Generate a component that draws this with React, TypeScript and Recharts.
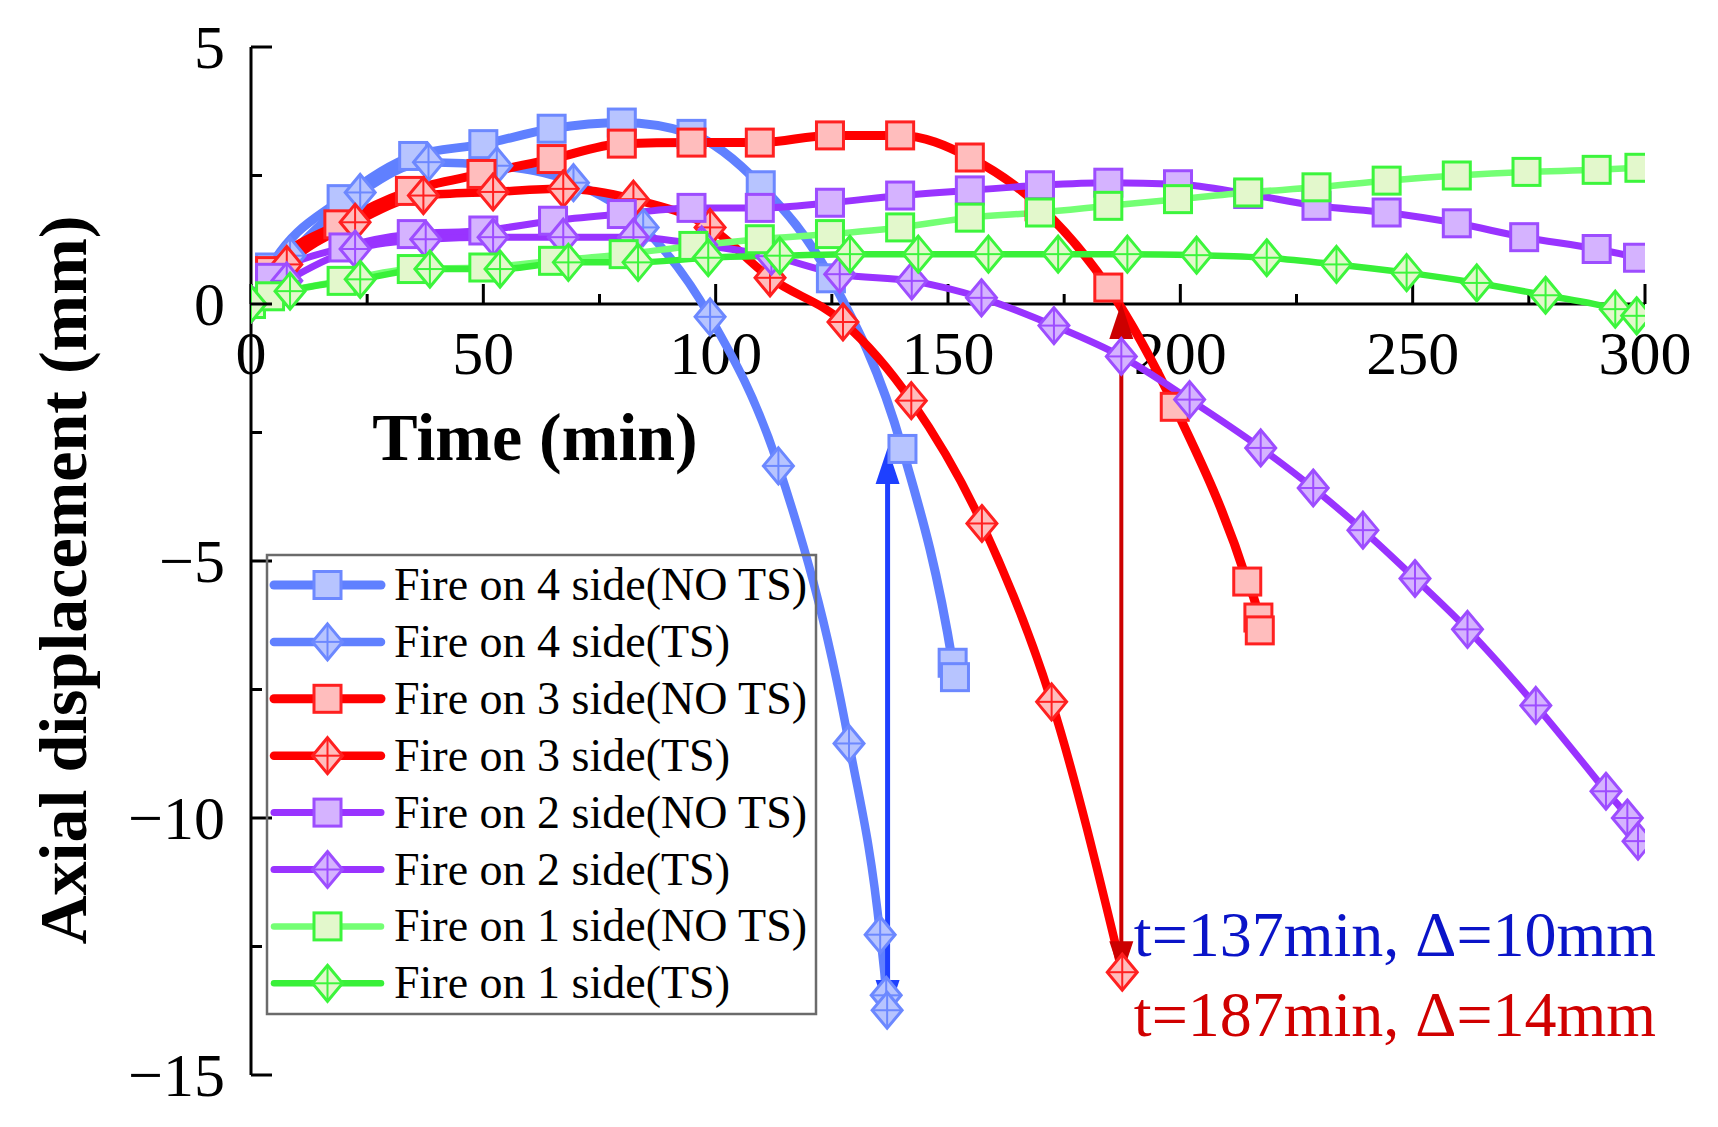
import React from 'react';
import { LineChart, Line, XAxis, YAxis, ReferenceLine, ReferenceDot, Legend, Label } from 'recharts';

const FONT = "'Liberation Serif', 'Times New Roman', serif";

// ---- data (time in min, axial displacement in mm) ----
const side4NoTsTime = [0, 4.1, 19.5, 34.9, 50, 64.7, 79.8, 94.8, 109.7, 124.8, 140.2, 151, 151.5];
const side4NoTsDisp = [0, 0.71, 2.04, 2.88, 3.11, 3.41, 3.53, 3.31, 2.31, 0.5, -2.82, -6.98, -7.26];

const side4TsTime = [0, 8.4, 23.5, 38.2, 52.9, 69.4, 84.4, 98.8, 113.5, 128.7, 135.4, 136.7, 136.9];
const side4TsDisp = [0, 0.94, 2.17, 2.76, 2.69, 2.36, 1.49, -0.25, -3.15, -8.55, -12.27, -13.45, -13.74];

const side3NoTsTime = [0, 4.1, 18.8, 34.2, 49.6, 64.7, 79.8, 94.8, 109.5, 124.6, 139.7, 154.7, 169.7, 184.5, 198.8, 214.4, 216.8, 217.1];
const side3NoTsDisp = [0, 0.64, 1.55, 2.2, 2.53, 2.82, 3.12, 3.14, 3.14, 3.28, 3.28, 2.85, 1.9, 0.32, -2.0, -5.4, -6.1, -6.35];

const side3TsTime = [0, 7.7, 22.4, 37.1, 52.1, 67.2, 82.3, 98.8, 111.7, 127.4, 142.1, 157.3, 172.3, 187.5];
const side3TsDisp = [0, 0.77, 1.59, 2.11, 2.18, 2.24, 2.04, 1.49, 0.51, -0.35, -1.88, -4.27, -7.74, -13.0];

const side2NoTsTime = [0, 4.1, 19.9, 34.6, 50, 65, 79.8, 94.8, 109.5, 124.6, 139.7, 154.7, 169.8, 184.5, 199.5, 214.6, 229.3, 244.4, 259.5, 274, 289.6, 298.5];
const side2NoTsDisp = [0, 0.51, 1.1, 1.36, 1.43, 1.62, 1.75, 1.87, 1.87, 1.97, 2.11, 2.21, 2.31, 2.36, 2.33, 2.14, 1.91, 1.78, 1.57, 1.3, 1.07, 0.9];

const side2TsTime = [0, 7.7, 22.4, 37.6, 52.1, 67.2, 82.3, 97, 112, 126.7, 142.2, 157.2, 172.8, 187.3, 202, 217.3, 228.6, 239.3, 250.5, 261.8, 276.5, 291.6, 296.2, 298.5];
const side2TsDisp = [0, 0.45, 1.07, 1.26, 1.3, 1.3, 1.3, 1.15, 0.93, 0.58, 0.45, 0.12, -0.42, -1.02, -1.86, -2.8, -3.58, -4.4, -5.34, -6.33, -7.81, -9.48, -10.0, -10.45];

const side1NoTsTime = [0, 4.1, 19.5, 34.6, 50, 65, 80.2, 95.2, 109.5, 124.6, 139.7, 154.7, 169.8, 184.5, 199.5, 214.6, 229.3, 244.4, 259.5, 274.5, 289.6, 298.8];
const side1NoTsDisp = [0, 0.15, 0.45, 0.68, 0.71, 0.84, 0.97, 1.13, 1.26, 1.36, 1.49, 1.68, 1.78, 1.91, 2.04, 2.17, 2.27, 2.4, 2.5, 2.57, 2.61, 2.65];

const side1TsTime = [0, 8.4, 23.5, 38.5, 53.6, 68.3, 83.3, 98.4, 113.8, 128.9, 143.6, 158.7, 173.7, 188.6, 203.5, 218.6, 233.6, 248.7, 263.8, 278.6, 293.6, 298.2];
const side1TsDisp = [0, 0.25, 0.48, 0.68, 0.68, 0.81, 0.81, 0.9, 0.94, 0.97, 0.97, 0.97, 0.97, 0.97, 0.95, 0.9, 0.77, 0.61, 0.41, 0.17, -0.1, -0.23];

const xTicks = [0, 25, 50, 75, 100, 125, 150, 175, 200, 225, 250, 275, 300];
const yTicks = [-15, -12.5, -10, -7.5, -5, -2.5, 0, 2.5, 5];

// annotation values
const arrow4 = { t: 137, from: -2.8, to: -13.85 };
const arrow3 = { t: 187.3, from: 0.02, to: -13.1 };
const note4 = { t: 190, v: -12.68, text: 't=137min, \u0394=10mm' };
const note3 = { t: 190, v: -14.25, text: 't=187min, \u0394=14mm' };

const zip = (ts: number[], vs: number[]) => ts.map((t, i) => ({ t, v: vs[i] }));

type Shape = 'square' | 'diamond';
interface SeriesCfg {
  name: string;
  data: { t: number; v: number }[];
  line: string;
  width: number;
  shape: Shape;
  fill: string;
  stroke: string;
}

const series: SeriesCfg[] = [
  { name: 'Fire on 4 side(NO TS)', data: zip(side4NoTsTime, side4NoTsDisp), line: '#6080ff', width: 9, shape: 'square', fill: '#b7c4ff', stroke: '#6c88ff' },
  { name: 'Fire on 4 side(TS)', data: zip(side4TsTime, side4TsDisp), line: '#6080ff', width: 8.5, shape: 'diamond', fill: '#b7c4ff', stroke: '#6c88ff' },
  { name: 'Fire on 3 side(NO TS)', data: zip(side3NoTsTime, side3NoTsDisp), line: '#ff0000', width: 9, shape: 'square', fill: '#ffbdbd', stroke: '#ff2020' },
  { name: 'Fire on 3 side(TS)', data: zip(side3TsTime, side3TsDisp), line: '#ff0000', width: 8.5, shape: 'diamond', fill: '#ffbdbd', stroke: '#ff2020' },
  { name: 'Fire on 2 side(NO TS)', data: zip(side2NoTsTime, side2NoTsDisp), line: '#9933ff', width: 7, shape: 'square', fill: '#d5b3ff', stroke: '#9d4dff' },
  { name: 'Fire on 2 side(TS)', data: zip(side2TsTime, side2TsDisp), line: '#9933ff', width: 7, shape: 'diamond', fill: '#d5b3ff', stroke: '#9d4dff' },
  { name: 'Fire on 1 side(NO TS)', data: zip(side1NoTsTime, side1NoTsDisp), line: '#74ff74', width: 6.5, shape: 'square', fill: '#e3f8cc', stroke: '#3cf53c' },
  { name: 'Fire on 1 side(TS)', data: zip(side1TsTime, side1TsDisp), line: '#38f038', width: 6.5, shape: 'diamond', fill: '#e3f8cc', stroke: '#3cf53c' },
];

const Marker = ({ shape, cx, cy, fill, stroke }: { shape: Shape; cx: number; cy: number; fill: string; stroke: string }) => {
  if (shape === 'square') {
    return <rect x={cx - 13.5} y={cy - 13.5} width={27} height={27} fill={fill} stroke={stroke} strokeWidth={3} />;
  }
  const hw = 15;
  const hh = 18;
  return (
    <g>
      <path d={`M${cx},${cy - hh} L${cx + hw},${cy} L${cx},${cy + hh} L${cx - hw},${cy} Z`} fill={fill} stroke={stroke} strokeWidth={3} />
      <line x1={cx} x2={cx} y1={cy - hh} y2={cy + hh} stroke={stroke} strokeWidth={2} />
      <line x1={cx - hw} x2={cx + hw} y1={cy} y2={cy} stroke={stroke} strokeWidth={2} />
    </g>
  );
};

const makeDot = (s: SeriesCfg) => (p: any) => {
  if (p.cx == null || p.cy == null) return <g key={`${s.name}-${p.index}`} />;
  return (
    <g key={`${s.name}-${p.index}`}>
      <Marker shape={s.shape} cx={p.cx} cy={p.cy} fill={s.fill} stroke={s.stroke} />
    </g>
  );
};

const fmt = (v: number) => (v < 0 ? `\u2212${Math.abs(v)}` : `${v}`);

const YTick = (p: any) => {
  const v = p.payload.value;
  const major = v % 5 === 0;
  return (
    <g>
      <line x1={p.x} x2={p.x + (major ? 21 : 11)} y1={p.y} y2={p.y} stroke="#000" strokeWidth={3} />
      {major && (
        <text x={p.x - 26} y={p.y + 21} textAnchor="end" fontFamily={FONT} fontSize={62} fill="#000">
          {fmt(v)}
        </text>
      )}
    </g>
  );
};

const XTick = (p: any) => {
  const v = p.payload.value;
  const major = v % 50 === 0;
  return (
    <g>
      <line x1={p.x} x2={p.x} y1={p.y} y2={p.y - (major ? 20 : 10)} stroke="#000" strokeWidth={3} />
      {major && (
        <text x={p.x} y={p.y + 70} textAnchor="middle" fontFamily={FONT} fontSize={62} fill="#000">
          {v}
        </text>
      )}
    </g>
  );
};

const YLabel = (p: any) => {
  const vb = p.viewBox || { x: 0, y: 47, width: 251, height: 1028 };
  const cx = vb.x + 86;
  const cy = vb.y + vb.height / 2 + 19;
  return (
    <text x={cx} y={cy} transform={`rotate(-90 ${cx} ${cy})`} textAnchor="middle" fontFamily={FONT} fontWeight="bold" fontSize={68} fill="#000">
      Axial displacement (mm)
    </text>
  );
};

const TimeLabel = (p: any) => {
  const vb = p.viewBox || { x: 251, y: 304, width: 1394, height: 196 };
  return (
    <text x={vb.x + 284} y={vb.y + 156} textAnchor="middle" fontFamily={FONT} fontWeight="bold" fontSize={68} fill="#000">
      Time (min)
    </text>
  );
};

const makeArrow = (color: string, w: number) => (p: any) => {
  const x = p.x1;
  const top = Math.min(p.y1, p.y2);
  const bot = Math.max(p.y1, p.y2);
  const hl = 36;
  const hw = 12;
  return (
    <g>
      <line x1={x} x2={x} y1={top + hl - 4} y2={bot - hl + 4} stroke={color} strokeWidth={w} />
      <polygon points={`${x},${top} ${x - hw},${top + hl} ${x + hw},${top + hl}`} fill={color} />
      <polygon points={`${x},${bot} ${x - hw},${bot - hl} ${x + hw},${bot - hl}`} fill={color} />
    </g>
  );
};

const makeNote = (text: string, color: string) => (p: any) => (
  <text x={p.cx} y={p.cy} textAnchor="start" fontFamily={FONT} fontSize={64} fill={color}>
    {text}
  </text>
);

const LegendBox = () => (
  <svg width={551} height={461} style={{ display: 'block', overflow: 'visible' }}>
    <rect x={1} y={1} width={549} height={459} fill="none" stroke="#6b6b6b" strokeWidth={2.5} />
    {series.map((s, i) => {
      const cy = 31 + i * 56.9;
      return (
        <g key={s.name}>
          <line x1={8} x2={115} y1={cy} y2={cy} stroke={s.line} strokeWidth={s.width} strokeLinecap="round" />
          <Marker shape={s.shape} cx={61.5} cy={cy} fill={s.fill} stroke={s.stroke} />
          <text x={128} y={cy + 15} fontFamily={FONT} fontSize={46} fill="#000">
            {s.name}
          </text>
        </g>
      );
    })}
  </svg>
);

const xAxisBase = xTicks.map((t) => ({ t }));

export default function App() {
  return (
    <div style={{ position: 'absolute', left: 0, top: 0, width: 1718, height: 1127, background: '#fff', overflow: 'hidden' }}>
      {/* x axis drawn at y = 0 of the main chart */}
      <div style={{ position: 'absolute', left: 0, top: 0 }}>
        <LineChart width={1718} height={500} data={xAxisBase} margin={{ top: 47, right: 73, bottom: 0, left: 251 }}>
          <XAxis
            type="number"
            dataKey="t"
            domain={[0, 300]}
            ticks={xTicks}
            interval={0}
            height={196}
            allowDataOverflow
            axisLine={{ stroke: '#000', strokeWidth: 3 }}
            tickLine={false}
            tickSize={0}
            tickMargin={0}
            tick={(p: any) => <XTick {...p} />}
          >
            <Label content={TimeLabel} />
          </XAxis>
          <YAxis hide domain={[0, 5]} allowDataOverflow />
        </LineChart>
      </div>
      <div style={{ position: 'absolute', left: 0, top: 0 }}>
        <LineChart width={1718} height={1127} margin={{ top: 47, right: 73, bottom: 52, left: 0 }}>
          <XAxis type="number" dataKey="t" domain={[0, 300]} hide allowDataOverflow />
          <YAxis
            type="number"
            domain={[-15, 5]}
            ticks={yTicks}
            interval={0}
            width={251}
            allowDataOverflow
            axisLine={{ stroke: '#000', strokeWidth: 3 }}
            tickLine={false}
            tickSize={0}
            tickMargin={0}
            tick={(p: any) => <YTick {...p} />}
          >
            <Label content={YLabel} />
          </YAxis>
          {series.map((s) => (
            <Line
              key={s.name}
              name={s.name}
              data={s.data}
              dataKey="v"
              type="monotone"
              stroke={s.line}
              strokeWidth={s.width}
              dot={makeDot(s)}
              activeDot={false}
              isAnimationActive={false}
              legendType="none"
            />
          ))}
          <ReferenceLine
            segment={[{ x: arrow4.t, y: arrow4.from }, { x: arrow4.t, y: arrow4.to }]}
            shape={makeArrow('#1e40ff', 5)}
          />
          <ReferenceLine
            segment={[{ x: arrow3.t, y: arrow3.from }, { x: arrow3.t, y: arrow3.to }]}
            shape={makeArrow('#cc0000', 4)}
          />
          <ReferenceDot x={note4.t} y={note4.v} r={0} shape={makeNote(note4.text, '#0a14c8')} />
          <ReferenceDot x={note3.t} y={note3.v} r={0} shape={makeNote(note3.text, '#d00000')} />
          <Legend
            layout="vertical"
            align="center"
            verticalAlign="middle"
            content={() => <LegendBox />}
            wrapperStyle={{ position: 'absolute', left: 266, top: 554, width: 551, height: 461 }}
          />
        </LineChart>
      </div>
    </div>
  );
}
